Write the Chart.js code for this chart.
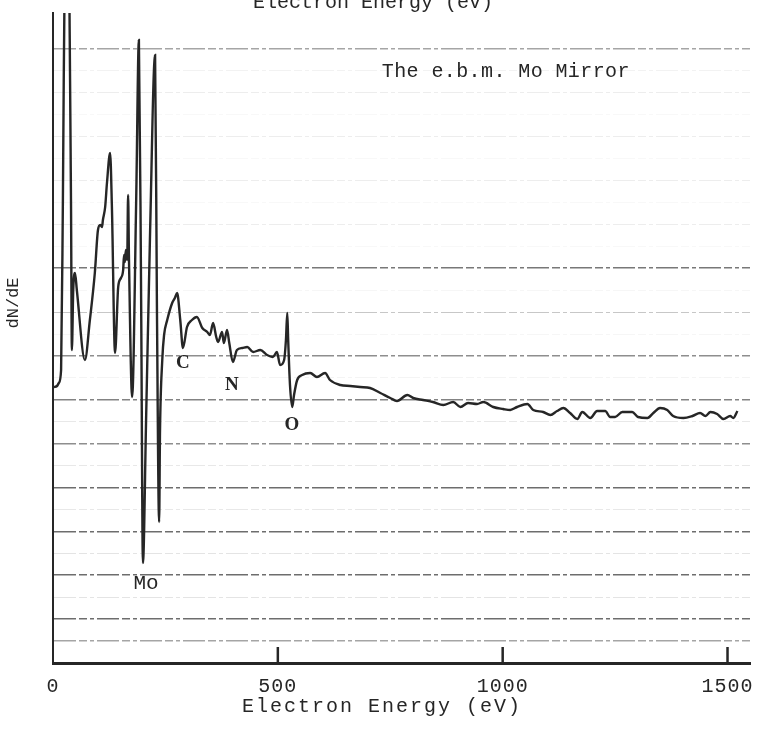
<!DOCTYPE html>
<html>
<head>
<meta charset="utf-8">
<title>The e.b.m. Mo Mirror</title>
<script src="https://cdn.jsdelivr.net/npm/chart.js@4/dist/chart.umd.min.js"></script>
<style>
  html, body { margin: 0; padding: 0; background: #fff; }
  #wrap { width: 759px; height: 729px; }
</style>
</head>
<body>
<div id="wrap"><canvas id="spectrum" width="759" height="729"></canvas></div>
<script>
// Auger spectrum (energy in eV, dN/dE in arbitrary units)
const energy = [
  2, 9, 13, 18, 22, 27, 33, 40, 42, 45, 49, 53, 71, 82, 93, 100, 105, 109, 111, 116,
  120, 127, 131, 138, 145, 151, 156, 158, 160, 162, 165, 167, 169, 176, 185, 191, 196, 200, 207, 216,
  227, 231, 236, 238, 243, 247, 254, 265, 271, 276, 283, 289, 298, 309, 320, 332, 343, 349, 356, 363,
  367, 376, 380, 387, 392, 400, 409, 421, 432, 445, 461, 476, 489, 498, 505, 514, 518, 521, 523, 527,
  532, 536, 543, 554, 572, 587, 605, 616, 639, 661, 683, 705, 728, 750, 765, 788, 801, 823, 845, 868,
  890, 906, 923, 943, 957, 979, 1001, 1017, 1032, 1055, 1068, 1090, 1106, 1121, 1135, 1150, 1166, 1177, 1195, 1210,
  1228, 1239, 1250, 1266, 1288, 1301, 1322, 1335, 1350, 1366, 1379, 1402, 1422, 1439, 1451, 1462, 1477, 1491, 1506, 1513,
  1522
];
const signal = [
  276, 277, 280, 293, 463, 740, 760, 463, 313, 373, 390, 373, 303, 343, 390, 433, 438, 436, 443, 456,
  480, 510, 456, 310, 376, 385, 393, 408, 401, 413, 403, 468, 403, 266, 463, 623, 363, 100, 243, 433,
  608, 363, 141, 233, 303, 328, 343, 360, 365, 370, 343, 315, 336, 343, 346, 335, 331, 328, 340, 326,
  321, 331, 320, 333, 320, 301, 313, 315, 316, 311, 313, 308, 306, 311, 298, 303, 323, 350, 323, 278,
  256, 268, 283, 288, 290, 286, 290, 283, 278, 277, 276, 275, 270, 265, 262, 268, 265, 263, 261, 258,
  261, 256, 260, 259, 261, 256, 254, 253, 256, 259, 253, 251, 248, 252, 255, 250, 244, 251, 245, 252,
  252, 246, 246, 251, 251, 246, 245, 250, 255, 253, 247, 245, 247, 250, 247, 251, 249, 244, 247, 245,
  252
];

const tickValues = [0, 500, 1000, 1500];
const axisTitle = 'Electron Energy (eV)';
const yTitle = 'dN/dE';
const sampleName = 'The e.b.m. Mo Mirror';

// peak labels placed at (energy, level)
const markText = ['C', 'N', 'O', 'Mo'];
const markEnergy = [289, 398, 531, 207];
const markLevel = [300, 278, 238, 80];

const ink = '#262626';
const ruleStep = 21.93; // spacing of the ruled lines on the paper
// how dark each ruled line shows through the scan, bottom to top
const ruleShade = [0, 0.4, 0.65, 0.12, 0.65, 0.12, 0.65, 0.1, 0.65, 0.1, 0.5, 0.1, 0.55, 0.05, 0.5,
  0.04, 0.25, 0.04, 0.6, 0.03, 0.08, 0.03, 0.08, 0.03, 0.08, 0.03, 0.08, 0.06, 0.4, 0];

const paperText = {
  id: 'paperText',
  beforeDraw(chart) {
    chart.ctx.letterSpacing = '1px';
  },
  afterDatasetsDraw(chart) {
    const { ctx, scales: { x, y } } = chart;
    ctx.save();
    // inward tick marks on the energy axis
    ctx.strokeStyle = ink;
    ctx.lineWidth = 2.5;
    tickValues.slice(1).forEach(v => {
      const px = x.getPixelForValue(v);
      ctx.beginPath();
      ctx.moveTo(px, y.bottom);
      ctx.lineTo(px, y.bottom - 16);
      ctx.stroke();
    });
    ctx.restore();
  },
  afterDraw(chart) {
    const { ctx, scales: { x, y } } = chart;
    ctx.save();
    ctx.fillStyle = ink;
    ctx.textAlign = 'center';

    // title strip cut off at the top of the scan
    ctx.letterSpacing = '0px';
    ctx.font = '20px "Liberation Mono", monospace';
    ctx.textBaseline = 'alphabetic';
    ctx.fillText(axisTitle, 373, 8);

    // x axis title
    ctx.letterSpacing = '2px';
    ctx.textBaseline = 'middle';
    ctx.fillText(axisTitle, 382, 707);

    // sample name
    ctx.letterSpacing = '0.4px';
    ctx.fillText(sampleName, x.getPixelForValue(1007), y.getPixelForValue(591));

    // y axis title
    ctx.save();
    ctx.letterSpacing = '0px';
    ctx.font = '17px "Liberation Mono", monospace';
    ctx.translate(13, 303);
    ctx.rotate(-Math.PI / 2);
    ctx.fillText(yTitle, 0, 0);
    ctx.restore();

    // element labels
    markText.forEach((t, i) => {
      ctx.letterSpacing = '0px';
      ctx.font = t === 'Mo' ? '21px "Liberation Mono", monospace'
                            : 'bold 19px "Liberation Serif", serif';
      ctx.fillText(t, x.getPixelForValue(markEnergy[i]), y.getPixelForValue(markLevel[i]));
    });
    ctx.restore();
  }
};

new Chart(document.getElementById('spectrum'), {
  type: 'line',
  data: {
    datasets: [{
      label: 'dN/dE',
      data: energy.map((e, i) => ({ x: e, y: signal[i] })),
      borderColor: ink,
      borderWidth: 2.4,
      pointRadius: 0,
      fill: false,
      tension: 0,
      cubicInterpolationMode: 'monotone'
    }]
  },
  options: {
    responsive: false,
    animation: false,
    events: [],
    layout: { autoPadding: false, padding: { top: 13, right: 9, left: 0, bottom: 0 } },
    plugins: {
      legend: { display: false },
      tooltip: { enabled: false },
      title: { display: false }
    },
    scales: {
      x: {
        type: 'linear',
        min: 0,
        max: 1550,
        afterFit: s => { s.height = 66; s.paddingLeft = 0; s.paddingRight = 0; },
        afterBuildTicks: s => { s.ticks = tickValues.map(v => ({ value: v })); },
        grid: { display: false, drawTicks: false },
        border: { display: true, color: ink, width: 3 },
        ticks: {
          color: ink,
          padding: 12,
          maxRotation: 0,
          autoSkip: false,
          callback: v => String(v),
          font: { family: '"Liberation Mono", monospace', size: 20 }
        }
      },
      y: {
        type: 'linear',
        min: 0,
        max: 650,
        afterFit: s => { s.width = 53; },
        ticks: { display: false, stepSize: ruleStep },
        grid: {
          drawTicks: false,
          color: c => {
            const k = Math.round(c.tick.value / ruleStep);
            if (Math.abs(c.tick.value - k * ruleStep) > 1) return 'rgba(0,0,0,0)';
            return 'rgba(30,30,30,' + (ruleShade[k] || 0) + ')';
          },
          lineWidth: c => ((ruleShade[Math.round(c.tick.value / ruleStep)] || 0) > 0.3 ? 1.6 : 1)
        },
        border: { display: true, color: ink, width: 2, dash: [22, 3, 8, 3, 4, 3] }
      }
    }
  },
  plugins: [paperText]
});
</script>
</body>
</html>
